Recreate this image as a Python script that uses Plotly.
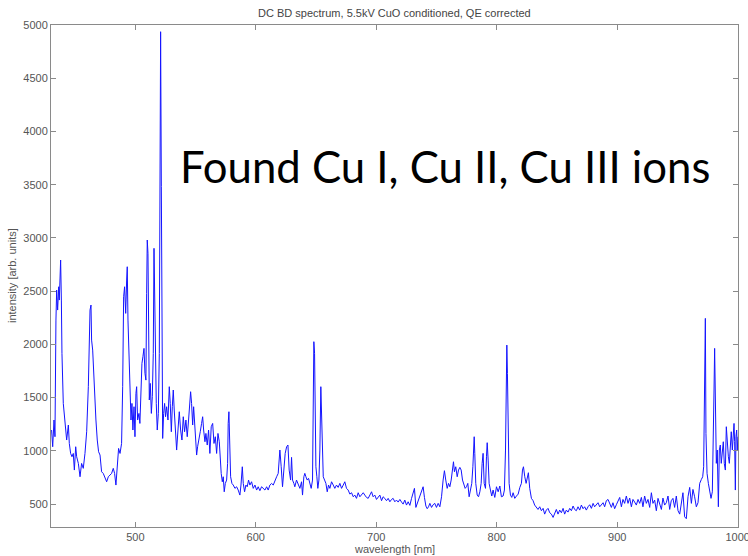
import plotly.graph_objects as go

title_text = "DC BD spectrum, 5.5kV CuO conditioned, QE corrected"
x_label = "wavelength [nm]"
y_label = "intensity [arb. units]"
note_text = "Found Cu I, Cu II, Cu III ions"

x_ticks = [500, 600, 700, 800, 900, 1000]
y_ticks = [500, 1000, 1500, 2000, 2500, 3000, 3500, 4000, 4500, 5000]

wavelength = [
    430.5, 431.4, 432.5, 433.3, 434.1, 434.7, 435.5, 436.4, 436.9, 437.5, 438.0, 438.6, 439.1, 440.2,
    441.6, 443.0, 444.4, 445.2, 446.3, 447.4, 448.5, 449.4, 450.5, 451.3, 452.7, 454.1, 455.4, 456.8,
    458.2, 459.6, 461.0, 462.4, 463.2, 463.7, 464.6, 465.7, 466.5, 467.3, 468.4, 469.5, 470.7, 472.0,
    473.4, 474.8, 476.2, 477.6, 479.0, 480.3, 481.7, 482.8, 483.9, 485.0, 486.1, 487.3, 488.6, 489.5,
    490.3, 491.1, 492.0, 492.8, 493.3, 493.9, 494.7, 495.6, 496.4, 497.2, 498.0, 498.9, 499.7, 500.5,
    501.1, 501.9, 503.0, 503.8, 504.7, 505.5, 506.3, 507.2, 508.0, 508.8, 509.4, 509.9, 510.5, 511.0,
    511.6, 512.4, 513.3, 514.1, 514.9, 515.5, 516.0, 516.6, 517.4, 518.2, 519.1, 519.9, 520.4, 521.0,
    521.6, 522.1, 522.7, 523.5, 524.3, 525.1, 526.0, 527.1, 528.2, 529.0, 529.9, 530.7, 531.5, 532.3,
    533.2, 534.3, 535.4, 536.5, 537.6, 538.7, 539.8, 540.9, 542.0, 543.1, 544.2, 545.3, 545.9, 546.7,
    547.6, 548.4, 549.2, 550.0, 550.9, 551.7, 552.8, 553.9, 555.0, 555.9, 556.7, 557.8, 558.6, 559.7,
    560.8, 561.9, 563.0, 564.2, 565.3, 566.4, 567.5, 568.6, 569.7, 570.5, 571.3, 572.2, 573.0, 573.8,
    574.7, 575.8, 576.6, 577.1, 577.7, 578.3, 579.1, 580.2, 581.3, 582.7, 584.1, 585.4, 586.8, 587.7,
    588.8, 589.6, 590.7, 591.8, 592.9, 594.0, 595.1, 596.5, 597.9, 599.3, 600.7, 602.0, 603.4, 604.8,
    606.2, 607.6, 609.0, 610.3, 611.7, 613.1, 614.5, 615.9, 617.3, 618.6, 620.0, 621.1, 622.2, 623.3,
    624.4, 625.6, 626.7, 627.7, 628.9, 629.7, 630.5, 631.6, 632.4, 633.8, 635.2, 636.6, 638.0, 638.8,
    639.9, 640.7, 641.6, 642.7, 643.8, 644.9, 646.0, 647.1, 647.7, 648.2, 648.8, 649.3, 649.9, 650.7,
    651.5, 652.4, 653.2, 654.0, 654.6, 655.1, 656.0, 657.1, 658.2, 659.3, 660.4, 661.5, 662.9, 664.3,
    665.6, 667.0, 668.4, 669.8, 671.2, 672.6, 673.9, 675.3, 676.7, 678.1, 679.5, 680.9, 682.2, 683.6,
    685.0, 686.4, 687.8, 689.2, 690.5, 691.9, 693.3, 694.7, 696.1, 697.4, 698.8, 700.2, 701.6, 703.0,
    704.4, 705.7, 707.1, 708.5, 709.9, 711.3, 712.7, 714.0, 715.4, 716.8, 718.2, 719.6, 721.0, 722.3,
    723.7, 725.1, 726.5, 727.9, 729.3, 730.6, 731.7, 732.9, 734.0, 735.1, 736.2, 737.6, 738.9, 740.0,
    741.2, 742.3, 743.4, 744.5, 745.9, 747.2, 748.6, 750.0, 751.4, 752.8, 754.2, 755.5, 756.6, 757.7,
    758.9, 760.0, 761.1, 762.2, 763.3, 764.1, 764.9, 766.0, 767.2, 768.3, 769.4, 770.5, 771.6, 772.7,
    773.8, 774.9, 776.0, 777.1, 778.2, 779.3, 780.2, 780.7, 781.3, 781.8, 782.6, 783.8, 784.9, 786.0,
    787.1, 787.9, 788.7, 789.6, 790.7, 791.5, 792.1, 792.9, 793.7, 794.8, 795.9, 797.0, 798.4, 799.8,
    801.2, 802.6, 803.9, 805.3, 806.4, 807.3, 807.8, 808.4, 808.9, 809.5, 810.3, 811.4, 812.5, 813.6,
    815.0, 816.4, 817.8, 819.2, 820.5, 821.4, 822.2, 823.3, 824.4, 826.3, 827.4, 828.8, 830.2, 831.5,
    832.9, 834.3, 835.7, 837.1, 838.5, 839.8, 841.2, 842.6, 844.0, 845.4, 846.8, 848.1, 849.5, 850.9,
    852.3, 853.7, 855.1, 856.4, 857.8, 859.2, 860.6, 862.0, 863.4, 864.7, 866.1, 867.5, 868.9, 870.3,
    871.7, 873.0, 874.4, 875.8, 877.2, 878.6, 880.0, 881.3, 882.7, 884.1, 885.5, 886.9, 888.3, 889.6,
    891.0, 892.4, 893.8, 895.2, 896.5, 897.9, 899.3, 900.7, 902.1, 903.5, 904.8, 906.2, 907.6, 909.0,
    910.4, 911.8, 913.1, 914.5, 915.9, 917.3, 918.7, 920.1, 921.4, 922.8, 924.2, 925.6, 927.0, 928.4,
    929.7, 931.1, 932.5, 933.9, 935.3, 936.7, 938.0, 939.4, 940.8, 942.2, 943.6, 944.9, 946.3, 947.7,
    949.1, 950.5, 951.9, 953.2, 954.6, 956.0, 957.4, 958.8, 960.2, 961.6, 962.9, 964.3, 965.7, 967.1,
    968.5, 969.9, 971.0, 971.8, 972.6, 973.2, 973.7, 974.6, 975.7, 976.8, 977.9, 979.0, 979.8, 980.4,
    980.9, 981.5, 982.3, 983.1, 984.0, 984.8, 985.6, 986.4, 987.3, 988.1, 988.9, 989.8, 990.6, 991.4,
    992.3, 993.1, 993.9, 994.7, 995.6, 996.4, 997.0, 997.5, 998.1, 998.6, 999.2, 999.7, 1000.3,
]

intensity = [
    1195, 1038, 1289, 1132, 2228, 2510, 2322, 2541, 2416, 2635, 2792, 2416, 1915, 1445,
    1226, 1101, 1242, 1069, 975, 944, 975, 819, 1038, 944, 881, 756, 881, 835,
    975, 1179, 1602, 2322, 2369, 2040, 1946, 1664, 1414, 1289, 1101, 991, 960, 803,
    787, 740, 709, 756, 772, 787, 835, 787, 678, 913, 1022, 975, 1069, 1602,
    2447, 2541, 2291, 2604, 2729, 2228, 1915, 1539, 1289, 1445, 1195, 1414, 1132, 1539,
    1602, 1289, 1351, 1257, 1602, 1821, 1884, 1962, 1727, 1664, 2479, 2980, 2855, 2228,
    1477, 1633, 1351, 1508, 1915, 2902, 2479, 1758, 1445, 1195, 1351, 1915, 4671, 4937,
    3481, 1602, 1116, 1351, 1445, 1320, 1414, 1289, 1602, 1445, 1179, 1414, 1571, 1383,
    1163, 1007, 1195, 1367, 1195, 1101, 1320, 1179, 1289, 1132, 1289, 1477, 1555, 1445,
    1242, 1414, 1289, 1163, 960, 1038, 1132, 1179, 1257, 1320, 1195, 1085, 1163, 1054,
    1195, 975, 1226, 1257, 1069, 1132, 975, 1163, 1085, 913, 787, 709, 756, 615,
    693, 725, 881, 1257, 1367, 1101, 756, 693, 678, 647, 662, 631, 584, 678,
    850, 693, 615, 678, 662, 725, 678, 709, 647, 678, 631, 662, 625, 662,
    647, 631, 662, 631, 678, 693, 678, 725, 756, 787, 1007, 850, 662, 819,
    975, 1038, 1054, 819, 725, 938, 725, 694, 662, 725, 678, 647, 709, 584,
    756, 788, 756, 725, 741, 678, 647, 725, 1633, 2025, 1915, 1320, 850, 756,
    647, 725, 1007, 1602, 1351, 944, 756, 725, 694, 615, 678, 647, 709, 678,
    647, 678, 656, 694, 647, 678, 709, 647, 631, 593, 606, 568, 584, 553,
    606, 568, 593, 606, 584, 562, 553, 584, 615, 568, 584, 543, 568, 584,
    531, 568, 553, 531, 553, 521, 543, 553, 521, 537, 518, 543, 518, 499,
    537, 490, 521, 487, 553, 606, 647, 468, 506, 543, 575, 631, 662, 562,
    481, 456, 474, 506, 468, 493, 506, 468, 506, 474, 568, 725, 813, 725,
    647, 694, 662, 725, 850, 897, 803, 850, 756, 819, 844, 819, 725, 694,
    647, 662, 694, 568, 647, 694, 850, 1007, 1132, 976, 694, 584, 568, 615,
    694, 882, 976, 694, 647, 944, 1076, 913, 694, 631, 575, 631, 562, 662,
    615, 669, 568, 575, 631, 1007, 1696, 1993, 1727, 1132, 694, 584, 562, 606,
    553, 575, 593, 656, 694, 819, 850, 756, 694, 794, 647, 553, 531, 490,
    468, 449, 474, 437, 459, 405, 443, 459, 418, 405, 374, 418, 449, 405,
    443, 418, 459, 405, 443, 424, 459, 437, 481, 449, 437, 474, 443, 490,
    456, 474, 443, 474, 493, 459, 506, 474, 490, 512, 474, 493, 512, 474,
    531, 543, 506, 468, 512, 456, 493, 531, 562, 474, 543, 506, 575, 506,
    556, 474, 543, 518, 490, 543, 506, 562, 474, 575, 506, 543, 468, 606,
    506, 537, 437, 553, 499, 449, 556, 490, 512, 575, 449, 531, 553, 468,
    575, 437, 405, 512, 606, 380, 362, 568, 656, 506, 637, 568, 474, 512,
    694, 731, 756, 850, 1445, 2244, 1163, 788, 694, 600, 553, 615, 1007, 1571,
    1962, 1633, 882, 1007, 474, 1007, 1054, 882, 1007, 1085, 882, 819, 1226, 1069,
    944, 882, 1101, 1179, 1007, 1132, 1257, 1085, 631, 1132, 1195, 1007, 1132,
]

axis_color = "#8a8a8a"
tick_font = dict(family="Liberation Sans, Arial, sans-serif", size=11, color="#555555")

fig = go.Figure()
fig.add_trace(go.Scatter(
    x=wavelength, y=intensity, mode="lines",
    line=dict(color="rgb(20,20,255)", width=1),
    showlegend=False, hoverinfo="skip", cliponaxis=True,
))

fig.update_layout(
    width=748, height=556,
    margin=dict(l=51, r=10, t=25, b=29, autoexpand=False),
    paper_bgcolor="white", plot_bgcolor="white",
    showlegend=False,
    xaxis=dict(
        range=[430, 1000.3], tickvals=x_ticks, ticktext=[str(v) for v in x_ticks],
        ticks="inside", ticklen=5, tickcolor=axis_color, tickwidth=1,
        showline=True, linecolor=axis_color, linewidth=1, mirror="ticks",
        showgrid=False, zeroline=False, tickfont=tick_font, automargin=False,
        ticklabeloverflow="allow",
    ),
    yaxis=dict(
        range=[284, 5000], tickvals=y_ticks, ticktext=[str(v) for v in y_ticks],
        ticks="inside", ticklen=5, tickcolor=axis_color, tickwidth=1,
        showline=True, linecolor=axis_color, linewidth=1, mirror="ticks",
        showgrid=False, zeroline=False, tickfont=tick_font, automargin=False,
    ),
    annotations=[
        dict(text=title_text, xref="paper", yref="paper", x=0.5, y=1, yshift=12,
             xanchor="center", yanchor="middle", showarrow=False,
             font=dict(family="Liberation Sans, Arial, sans-serif", size=11, color="#444444")),
        dict(text=x_label, xref="paper", yref="paper", x=0.5, y=0, yshift=-22,
             xanchor="center", yanchor="middle", showarrow=False,
             font=dict(family="Liberation Sans, Arial, sans-serif", size=11, color="#555555")),
        dict(text=y_label, xref="paper", yref="paper", x=0, y=0.5, xshift=-39,
             xanchor="center", yanchor="middle", showarrow=False, textangle=-90,
             font=dict(family="Liberation Sans, Arial, sans-serif", size=11, color="#555555")),
        dict(text=note_text, xref="paper", yref="paper", x=0.185, y=0.720,
             xanchor="left", yanchor="middle", showarrow=False,
             font=dict(family="Lato, sans-serif", size=43.7, color="black")),
    ],
)

fig.write_html(
    "out.html",
    config={"displayModeBar": False},
    post_script="document.body.style.margin='0';document.body.style.overflow='hidden';",
)
